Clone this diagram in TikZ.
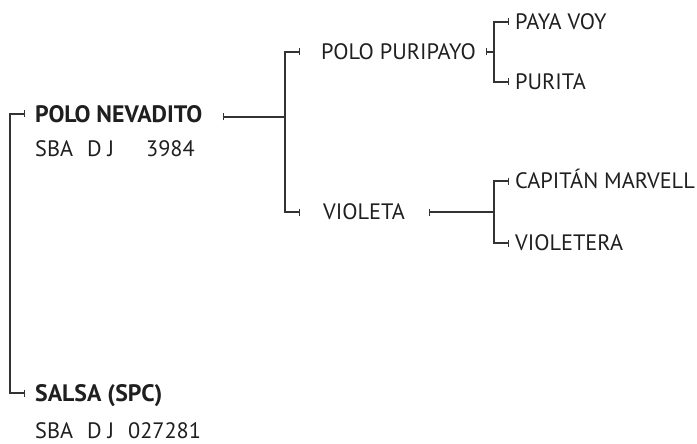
\documentclass[tikz,border=0pt]{standalone}
\usepackage{fontspec}
\setmainfont{PT Sans}
\usepackage{tikz}
\usetikzlibrary{arrows.meta, positioning}

\begin{document}
\begin{tikzpicture}[x=1pt, y=-1pt]
    % 样式
    \tikzstyle{horse} = [anchor=west, inner sep=0pt, text height=15.5pt, text depth=0pt, text=black!88, font=\fontsize{22.3}{26}\selectfont]
    \tikzstyle{hhorse} = [horse, text height=16.6pt, font=\fontsize{23.8}{28}\selectfont\bfseries]
    \tikzstyle{brk} = [line width=1.2pt, draw=black!80, {Bar[width=7pt,line width=1pt]}-{Bar[width=7pt,line width=1pt]}]
    \tikzstyle{link} = [line width=1.2pt, draw=black!80, {Bar[width=7pt,line width=1pt]}-]

    \useasboundingbox (0,0) rectangle (697,444);

    % 节点
    \node (nev) [hhorse] at (35,114) {POLO NEVADITO};
    \node (nevid) [horse] at (35,149) {SBA\hspace{14pt}D J\hspace{32pt}3984};
    \node (salsa) [hhorse] at (35,393) {SALSA (SPC)};
    \node (salsaid) [horse] at (35,431) {SBA\hspace{14pt}D J\hspace{14pt}027281};

    \node (puri) [horse] at (321,52) {POLO PURIPAYO};
    \node (viol) [horse] at (323,212) {VIOLETA};

    \node (paya) [horse] at (515,22) {PAYA VOY};
    \node (purita) [horse] at (515,82) {PURITA};
    \node (capitan) [horse] at (515,181) {CAPITÁN MARVELL};
    \node (violetera) [horse] at (515,243) {VIOLETERA};

    % 竖线位置
    \coordinate (spine1) at ([xshift=-36pt]puri.west);
    \coordinate (spine2) at ([xshift=-21pt]paya.west);
    \coordinate (spine3) at ([xshift=-21pt]capitan.west);

    % 连接线
    \draw [brk] ([xshift=-10pt]nev.west) -| ([xshift=-25pt]salsa.west) -- ([xshift=-10pt]salsa.west);
    \draw [link] ([xshift=20pt,yshift=-3pt]nev.east) -- ([yshift=-3pt]spine1 |- nev.east);
    \draw [brk] ([xshift=-21pt]puri.west) -| ([xshift=-38pt]viol.west) -- ([xshift=-23pt]viol.west);
    \draw [link] ([xshift=10pt]puri.east) -- (spine2 |- puri.east);
    \draw [link] ([xshift=24pt]viol.east) -- (spine3 |- viol.east);
    \draw [brk] ([xshift=-6pt]paya.west) -| ([xshift=-21pt]purita.west) -- ([xshift=-6pt]purita.west);
    \draw [brk] ([xshift=-6pt]capitan.west) -| ([xshift=-21pt]violetera.west) -- ([xshift=-6pt]violetera.west);
\end{tikzpicture}
\end{document}
